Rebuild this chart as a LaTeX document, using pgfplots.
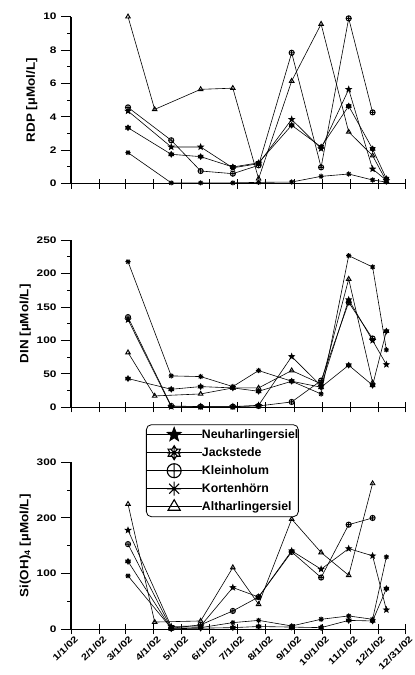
\documentclass[border=0pt]{standalone}
\usepackage{fontspec}
\setmainfont{Liberation Sans}
\newfontfamily\tickfont[FakeStretch=1.25]{Liberation Sans}
\newfontfamily\labfont[FakeStretch=1.12]{Liberation Sans}
\usepackage{pgfplots}
\pgfplotsset{compat=1.18}
\usetikzlibrary{plotmarks}

\pgfdeclareplotmark{fstar}{%
  \pgfpathmoveto{\pgfpointpolar{90}{\pgfplotmarksize}}%
  \pgfpathlineto{\pgfpointpolar{126}{0.42\pgfplotmarksize}}%
  \pgfpathlineto{\pgfpointpolar{162}{\pgfplotmarksize}}%
  \pgfpathlineto{\pgfpointpolar{198}{0.42\pgfplotmarksize}}%
  \pgfpathlineto{\pgfpointpolar{234}{\pgfplotmarksize}}%
  \pgfpathlineto{\pgfpointpolar{270}{0.42\pgfplotmarksize}}%
  \pgfpathlineto{\pgfpointpolar{306}{\pgfplotmarksize}}%
  \pgfpathlineto{\pgfpointpolar{342}{0.42\pgfplotmarksize}}%
  \pgfpathlineto{\pgfpointpolar{18}{\pgfplotmarksize}}%
  \pgfpathlineto{\pgfpointpolar{54}{0.42\pgfplotmarksize}}%
  \pgfpathclose\pgfusepathqfillstroke}
\pgfdeclareplotmark{ast8}{%
  \pgfpathmoveto{\pgfpointpolar{0}{\pgfplotmarksize}}\pgfpathlineto{\pgfpointpolar{180}{\pgfplotmarksize}}%
  \pgfpathmoveto{\pgfpointpolar{45}{\pgfplotmarksize}}\pgfpathlineto{\pgfpointpolar{225}{\pgfplotmarksize}}%
  \pgfpathmoveto{\pgfpointpolar{90}{\pgfplotmarksize}}\pgfpathlineto{\pgfpointpolar{270}{\pgfplotmarksize}}%
  \pgfpathmoveto{\pgfpointpolar{135}{\pgfplotmarksize}}\pgfpathlineto{\pgfpointpolar{315}{\pgfplotmarksize}}%
  \pgfusepathqstroke}
\pgfdeclareplotmark{jack}{%
  \pgfpathmoveto{\pgfpointpolar{90}{\pgfplotmarksize}}%
  \pgfpathlineto{\pgfpointpolar{120}{0.6\pgfplotmarksize}}%
  \pgfpathlineto{\pgfpointpolar{150}{\pgfplotmarksize}}%
  \pgfpathlineto{\pgfpointpolar{180}{0.6\pgfplotmarksize}}%
  \pgfpathlineto{\pgfpointpolar{210}{\pgfplotmarksize}}%
  \pgfpathlineto{\pgfpointpolar{240}{0.6\pgfplotmarksize}}%
  \pgfpathlineto{\pgfpointpolar{270}{\pgfplotmarksize}}%
  \pgfpathlineto{\pgfpointpolar{300}{0.6\pgfplotmarksize}}%
  \pgfpathlineto{\pgfpointpolar{330}{\pgfplotmarksize}}%
  \pgfpathlineto{\pgfpointpolar{0}{0.6\pgfplotmarksize}}%
  \pgfpathlineto{\pgfpointpolar{30}{\pgfplotmarksize}}%
  \pgfpathlineto{\pgfpointpolar{60}{0.6\pgfplotmarksize}}%
  \pgfpathclose
  \pgfpathmoveto{\pgfpointpolar{0}{\pgfplotmarksize}}\pgfpathlineto{\pgfpointpolar{180}{\pgfplotmarksize}}%
  \pgfpathmoveto{\pgfpointpolar{90}{\pgfplotmarksize}}\pgfpathlineto{\pgfpointpolar{270}{\pgfplotmarksize}}%
  \pgfpathmoveto{\pgfpointpolar{45}{0.8\pgfplotmarksize}}\pgfpathlineto{\pgfpointpolar{225}{0.8\pgfplotmarksize}}%
  \pgfpathmoveto{\pgfpointpolar{135}{0.8\pgfplotmarksize}}\pgfpathlineto{\pgfpointpolar{315}{0.8\pgfplotmarksize}}%
  \pgfusepathqstroke}

\pgfplotsset{
  panel/.style={
    scale only axis, width=334.7pt, height=167pt,
    xmin=0, xmax=364, ymin=0,
    axis lines=left, axis line style={-, line width=1.4pt},
    xtick={0,31,59,90,120,151,181,212,243,273,304,334,364},
    xtick align=center, ytick align=outside,
    major tick length=10pt, minor tick length=4pt,
    minor y tick num=1,
    tick style={black, line width=1pt},
    clip=false,
    /pgf/number format/assume math mode=true,
    yticklabel style={font=\tickfont\bfseries\fontsize{9.5}{11}\selectfont, xshift=-1pt},
    ylabel style={font=\labfont\bfseries\fontsize{12}{14}\selectfont, yshift=-1pt},
    every axis plot/.append style={black, line width=0.6pt, mark size=2.6pt, mark options={solid, line width=0.95pt}},
    cycle list={
      {mark=fstar},{mark=jack},{mark=oplus},{mark=ast8},{mark=triangle}
    },
  },
}

\begin{document}
\begin{tikzpicture}
\useasboundingbox (0,0) rectangle (415pt,675pt);

% ---------------- RDP ----------------
\begin{axis}[panel, at={(71pt,491.3pt)}, anchor=south west,
  ymax=10, ytick={0,2,4,6,8,10}, xticklabels={},
  ylabel={RDP [µMol/L]}]
\addplot coordinates {(62,4.35)(109,2.2)(141,2.2)(176,0.95)(204,1.2)(240,3.85)(272,2.1)(302,5.65)(328,0.88)(343,0.2)};
\addplot coordinates {(62,3.35)(109,1.76)(141,1.62)(176,1.0)(204,1.25)(240,3.5)(272,2.2)(302,4.65)(328,2.08)(343,0.3)};
\addplot coordinates {(62,4.57)(109,2.6)(141,0.76)(176,0.6)(204,1.1)(240,7.84)(272,0.98)(302,9.9)(328,4.27)};
\addplot coordinates {(62,1.86)(109,0.05)(141,0.05)(176,0.05)(204,0.08)(240,0.1)(272,0.44)(302,0.58)(328,0.22)(343,0.1)};
\addplot coordinates {(62,10)(91,4.45)(141,5.65)(176,5.72)(204,0.3)(240,6.15)(272,9.56)(302,3.1)(328,1.68)(343,0.15)};
\end{axis}

% ---------------- DIN ----------------
\begin{axis}[panel, at={(71pt,267.7pt)}, anchor=south west,
  ymax=250, ytick={0,50,100,150,200,250}, xticklabels={},
  ylabel={DIN [µMol/L]}]
\addplot coordinates {(62,131)(109,1)(141,1)(176,1)(204,3)(240,76)(272,32)(302,161)(328,100)(343,64)};
\addplot coordinates {(62,43)(109,27)(141,31)(176,29)(204,24)(240,39)(272,30)(302,63)(328,33)(343,114)};
\addplot coordinates {(62,135)(109,2)(141,1)(176,1)(204,2)(240,8)(272,40)(302,157)(328,103)};
\addplot coordinates {(62,218)(109,47)(141,46)(176,31)(204,55)(240,39)(272,20)(302,227)(328,210)(343,86)};
\addplot coordinates {(62,82)(91,17)(141,20)(176,29)(204,29)(240,55)(272,35)(302,192)(328,37)};
\end{axis}

% ---------------- Si(OH)4 ----------------
\begin{axis}[panel, at={(71pt,45.7pt)}, anchor=south west,
  ymax=300, ytick={0,100,200,300},
  xticklabels={1/1/02,2/1/02,3/1/02,4/1/02,5/1/02,6/1/02,7/1/02,8/1/02,9/1/02,10/1/02,11/1/02,12/1/02,12/31/02},
  xticklabel style={font=\tickfont\bfseries\fontsize{9}{10}\selectfont, rotate=45, anchor=north east, xshift=5pt, yshift=1pt},
  ylabel={Si(OH)\textsubscript{4} [µMol/L]},
  legend cell align=left,
  legend image code/.code={\path[draw=none] (0pt,-7pt) rectangle (55pt,7pt);\draw[mark repeat=2,mark phase=2,#1, mark size=7pt, mark options={line width=1.1pt}] plot coordinates {(0pt,0pt)(27.5pt,0pt)(55pt,0pt)};},
  legend style={at={(axis description cs:0.224,1.2275)}, anchor=north west,
    draw=black, line width=0.8pt, rounded corners=5pt,
    font=\bfseries\fontsize{12.3}{14}\selectfont,
    inner xsep=0pt, inner ysep=3pt, row sep=4pt,
    nodes={inner sep=0pt},
    /tikz/every even column/.append style={column sep=5pt}},
  ]
\addplot coordinates {(62,178)(109,5)(141,6)(176,75)(204,58)(240,141)(272,108)(302,145)(328,132)(343,35)};
\addplot coordinates {(62,122)(109,1)(141,2)(176,3)(204,5)(240,4)(272,3)(302,16)(328,15)(343,73)};
\addplot coordinates {(62,153)(109,2)(141,8)(176,33)(204,58)(240,139)(272,93)(302,188)(328,200)};
\addplot coordinates {(62,96)(109,2)(141,3)(176,12)(204,16)(240,6)(272,18)(302,24)(328,18)(343,130)};
\addplot coordinates {(62,225)(91,13)(141,15)(176,111)(204,45)(240,198)(272,138)(302,97)(328,262)};
\legend{Neuharlingersiel,Jackstede,Kleinholum,Kortenhörn,Altharlingersiel}
\end{axis}
\end{tikzpicture}
\end{document}
